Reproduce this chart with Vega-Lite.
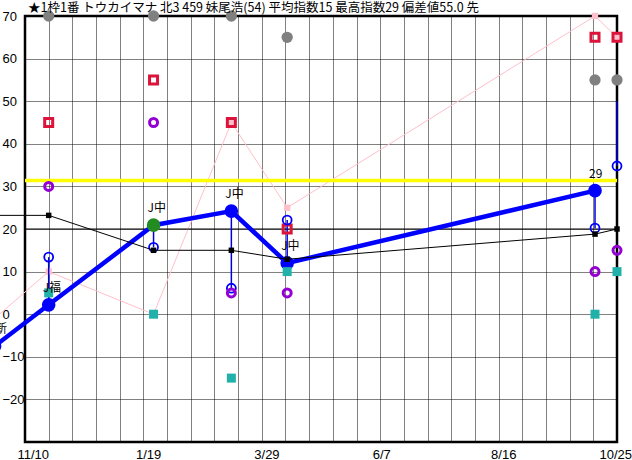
{
  "$schema": "https://vega.github.io/schema/vega-lite/v6.json",
  "width": 592,
  "height": 426,
  "autosize": {"type": "none"},
  "padding": {"left": 25, "top": 16, "right": 15, "bottom": 18},
  "background": "white",
  "title": {
    "text": "★1枠1番 トウカイマナ 北3 459 妹尾浩(54) 平均指数15 最高指数29 偏差値55.0 先",
    "anchor": "start",
    "frame": "group",
    "font": "Noto Sans CJK JP",
    "fontSize": 12.5,
    "fontWeight": "normal",
    "color": "#000",
    "baseline": "alphabetic",
    "offset": 3,
    "dx": 3,
    "dy": 17
  },
  "config": {
    "view": {"stroke": "#000", "strokeWidth": 2.5},
    "axis": {
      "domain": false,
      "ticks": false,
      "tickSize": 0,
      "gridColor": "#000",
      "gridDash": [1, 1],
      "gridOpacity": 1,
      "gridWidth": 1,
      "labelFont": "Liberation Sans",
      "labelFontSize": 13,
      "labelColor": "#000",
      "labelOverlap": false,
      "labelFlush": false,
      "labelBound": false
    }
  },
  "resolve": {"axis": {"x": "independent"}},
  "data": {
    "values": [
      {"date": "2023-10-23", "main": -7.5, "black": 23.2, "pink": -1, "label": "J新"},
      {"date": "2023-11-24", "main": 2.2, "link": 2.2, "sub": 13.4, "purple": 30, "red": 45, "teal": 5, "gray": 70, "black": 23.2, "pink": 10, "label": "J福"},
      {"date": "2024-01-25", "main": 20.9, "link": 20.9, "sub": 15.7, "purple": 45, "red": 55, "teal": 0, "gray": 70, "black": 15, "pink": 0, "label": "J中", "win": true},
      {"date": "2024-03-11", "main": 24.2, "link": 24.2, "sub": 6.1, "purple": 5, "red": 45, "teal": -15, "gray": 70, "black": 15, "pink": 45, "label": "J中"},
      {"date": "2024-04-13", "main": 12, "link": 12, "sub": 22.1, "purple": 5, "red": 20, "teal": 10, "gray": 65, "black": 12.9, "pink": 25, "label": "J中"},
      {"date": "2024-10-12", "main": 29, "link": 29, "sub": 20.2, "purple": 10, "red": 65, "teal": 0, "gray": 55, "black": 18.8, "pink": 70, "label": "29"},
      {"date": "2024-10-25", "link": 50, "sub": 34.8, "purple": 15, "red": 65, "teal": 10, "gray": 55, "black": 20, "pink": 65}
    ]
  },
  "layer": [
    {
      "mark": {"type": "line", "color": "#FFC0CB", "strokeWidth": 1},
      "encoding": {
        "x": {
          "field": "date", "type": "temporal", "title": null,
          "scale": {"type": "utc", "domain": [1699574400000, 1729814400000]},
          "axis": {
            "orient": "bottom",
            "grid": false,
            "values": [1699574400000, 1705622400000, 1711670400000, 1717718400000, 1723766400000, 1729814400000],
            "labelExpr": "utcFormat(datum.value, '%-m/%-d')",
            "labelAlign": "left",
            "labelOffset": {"condition": {"test": "datum.value >= 1729814400000", "value": -18}, "value": -8},
            "labelPadding": 6,
            "labelBaseline": "top",
            "labelOverlap": false,
            "labelFlush": false,
            "labelBound": false,
            "title": null
          }
        },
        "y": {
          "field": "pink", "type": "quantitative", "title": null,
          "scale": {"domain": [-30, 70], "nice": false, "zero": false},
          "axis": {
            "values": [-20, -10, 0, 10, 20, 30, 40, 50, 60, 70],
            "grid": true,
            "labelAlign": "left",
            "labelPadding": 23,
            "labelBaseline": "middle",
            "title": null
          }
        }
      }
    },
    {
      "data": {"values": [{"ref": 20}]},
      "mark": {"type": "rule", "color": "#000", "strokeWidth": 1.2},
      "encoding": {"y": {"field": "ref", "type": "quantitative", "title": null}}
    },
    {
      "data": {"values": [{"ref": 31.4}]},
      "mark": {"type": "rule", "color": "#FFFF00", "strokeWidth": 3.5},
      "encoding": {"y": {"field": "ref", "type": "quantitative", "title": null}}
    },
    {
      "transform": [{"filter": "isValid(datum.sub)"}],
      "mark": {"type": "square", "color": "#FFC0CB", "size": 40, "opacity": 1},
      "encoding": {
        "x": {
          "field": "date", "type": "temporal", "title": null,
          "axis": {
            "orient": "top",
            "grid": true,
            "labels": false,
            "values": [1699574400000, 1700784000000, 1701993600000, 1703203200000, 1704412800000, 1705622400000, 1706832000000, 1708041600000, 1709251200000, 1710460800000, 1711670400000, 1712880000000, 1714089600000, 1715299200000, 1716508800000, 1717718400000, 1718928000000, 1720137600000, 1721347200000, 1722556800000, 1723766400000, 1724976000000, 1726185600000, 1727395200000, 1728604800000, 1729814400000],
            "title": null
          }
        },
        "y": {"field": "pink", "type": "quantitative", "title": null}
      }
    },
    {
      "transform": [{"filter": "isValid(datum.link)"}],
      "mark": {"type": "rule", "color": "#0000DD", "strokeWidth": 1.5},
      "encoding": {
        "x": {"field": "date", "type": "temporal", "axis": null},
        "y": {"field": "link", "type": "quantitative", "title": null},
        "y2": {"field": "sub"}
      }
    },
    {
      "transform": [{"filter": "isValid(datum.main)"}],
      "mark": {"type": "line", "color": "#0000FF", "strokeWidth": 4.5},
      "encoding": {
        "x": {"field": "date", "type": "temporal", "axis": null},
        "y": {"field": "main", "type": "quantitative", "title": null}
      }
    },
    {
      "transform": [{"filter": "isValid(datum.red)"}],
      "mark": {"type": "point", "shape": "square", "filled": false, "color": "#DC143C", "strokeWidth": 3, "size": 64, "opacity": 1},
      "encoding": {
        "x": {"field": "date", "type": "temporal", "axis": null},
        "y": {"field": "red", "type": "quantitative", "title": null}
      }
    },
    {
      "transform": [{"filter": "isValid(datum.gray)"}],
      "mark": {"type": "circle", "color": "#808080", "size": 127, "opacity": 1},
      "encoding": {
        "x": {"field": "date", "type": "temporal", "axis": null},
        "y": {"field": "gray", "type": "quantitative", "title": null}
      }
    },
    {
      "transform": [{"filter": "isValid(datum.sub)"}],
      "mark": {"type": "point", "shape": "circle", "filled": false, "color": "#0000FF", "strokeWidth": 1.8, "size": 80, "opacity": 1},
      "encoding": {
        "x": {"field": "date", "type": "temporal", "axis": null},
        "y": {"field": "sub", "type": "quantitative", "title": null}
      }
    },
    {
      "transform": [{"filter": "isValid(datum.purple)"}],
      "mark": {"type": "point", "shape": "circle", "filled": false, "color": "#9400D3", "strokeWidth": 3, "size": 64, "opacity": 1},
      "encoding": {
        "x": {"field": "date", "type": "temporal", "axis": null},
        "y": {"field": "purple", "type": "quantitative", "title": null}
      }
    },
    {
      "transform": [{"filter": "isValid(datum.main)"}],
      "mark": {"type": "circle", "size": 185, "opacity": 1},
      "encoding": {
        "x": {"field": "date", "type": "temporal", "axis": null},
        "y": {"field": "main", "type": "quantitative", "title": null},
        "color": {"condition": {"test": "datum.win", "value": "#228B22"}, "value": "#0000FF"}
      }
    },
    {
      "transform": [{"filter": "isValid(datum.teal)"}],
      "mark": {"type": "square", "color": "#20B2AA", "size": 81, "opacity": 1},
      "encoding": {
        "x": {"field": "date", "type": "temporal", "axis": null},
        "y": {"field": "teal", "type": "quantitative", "title": null}
      }
    },
    {
      "mark": {"type": "line", "color": "#000", "strokeWidth": 1},
      "encoding": {
        "x": {"field": "date", "type": "temporal", "axis": null},
        "y": {"field": "black", "type": "quantitative", "title": null}
      }
    },
    {
      "transform": [{"filter": "isValid(datum.sub)"}],
      "mark": {"type": "square", "color": "#000", "size": 30, "opacity": 1},
      "encoding": {
        "x": {"field": "date", "type": "temporal", "axis": null},
        "y": {"field": "black", "type": "quantitative", "title": null}
      }
    },
    {
      "transform": [{"filter": "isValid(datum.label)"}],
      "mark": {"type": "text", "font": "Noto Sans CJK JP", "fontSize": 12, "color": "#000", "align": "left", "baseline": "alphabetic", "dx": -6, "dy": -13},
      "encoding": {
        "x": {"field": "date", "type": "temporal", "axis": null},
        "y": {"field": "main", "type": "quantitative", "title": null},
        "text": {"field": "label"}
      }
    }
  ]
}
